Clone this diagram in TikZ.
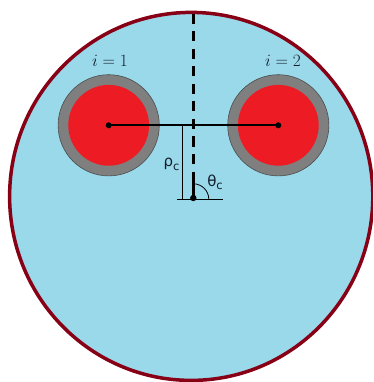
\documentclass[tikz,border=0pt]{standalone}
\usepackage{fontspec}
\newfontfamily\dejavu{DejaVu Sans}
\definecolor{lightblue}{HTML}{99D9EA}
\definecolor{borderred}{HTML}{880015}
\definecolor{cablered}{HTML}{ED1C24}
\definecolor{cablegray}{HTML}{7F7F7F}
\definecolor{txt}{HTML}{141C2C}
\tikzset{
  outer/.style={draw=borderred, line width=3.5pt, fill=lightblue},
  sheath/.style={fill=cablegray, draw=black!70, line width=0.6pt},
  core/.style={fill=cablered},
  axisline/.style={line width=2.6pt, dash pattern=on 10pt off 7.5pt},
  link/.style={line width=1.8pt},
  thinline/.style={line width=0.8pt},
  dotc/.style={fill=black},
  lab/.style={text=txt, inner sep=0pt},
  mathlab/.style={lab, font=\fontsize{16}{18}\selectfont},
  greeklab/.style={lab, font=\dejavu\fontsize{15}{17}\selectfont}
}
\newcommand{\subc}{\raisebox{-3.5pt}{\fontsize{11.5}{13}\selectfont c}}
\begin{document}
\begin{tikzpicture}[x=1pt,y=-1pt]
\useasboundingbox (0,0) rectangle (373,382);
\clip (0,0) rectangle (373,382);
\fill[white] (0,0) rectangle (373,382);
\coordinate (O) at (191.2,196.4);
\draw[outer] (O) ellipse[x radius=181.6, y radius=184];
% cables
\coordinate (c1) at (108.7,125.3);
\coordinate (c2) at (278.3,125.3);
\draw[sheath] (c1) circle[radius=50.6];
\fill[core] (c1) circle[radius=40.4];
\draw[sheath] (c2) circle[radius=50.6];
\fill[core] (c2) circle[radius=40.4];
% axis
\coordinate (top) at (193.3,14);
\coordinate (mid) at (193.3,181);
\coordinate (P) at (193.3,198);
\draw[axisline] (top) -- (mid);
\draw[line width=2.6pt] (mid) -- (P);
% connecting line
\draw[link] (c1) -- (c2);
\fill[dotc] (c1) circle[radius=3];
\fill[dotc] (c2) circle[radius=3];
% rho marker and baseline
\coordinate (rt) at (182.5,125.3);
\coordinate (rb) at (182.5,199.3);
\coordinate (bl) at (177,199.3);
\coordinate (br) at (223.3,199.3);
\coordinate (B) at (193.3,199.3);
\draw[thinline] (rt) -- (rb);
\draw[thinline] (bl) -- (br);
\draw[thinline] ([yshift=15.5pt]B) arc[start angle=-90, end angle=0, radius=15.5];
\fill[dotc] (P) circle[radius=3.2];
% labels
\node[mathlab] (l1) at (110,61) {$i=1$};
\node[mathlab] (l2) at (283,61) {$i=2$};
\node[greeklab] (rho) at (171.5,164.5) {ρ\subc};
\node[greeklab] (th) at (215,182.5) {θ\subc};
\end{tikzpicture}
\end{document}
